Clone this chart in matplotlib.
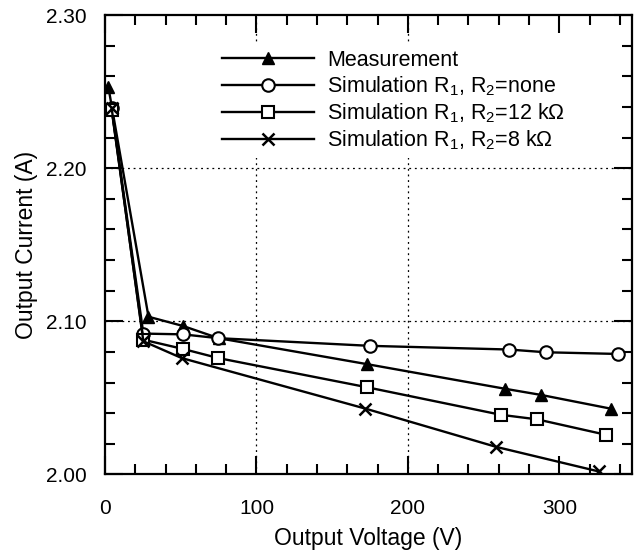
import matplotlib
matplotlib.use("Agg")
import matplotlib.pyplot as plt
from matplotlib.ticker import MultipleLocator

plt.rcParams['font.family'] = ['Liberation Sans', 'DejaVu Sans']

# measured and simulated output current vs output voltage
meas_v = [2.2, 28.7, 51.4, 75.0, 173.3, 264.0, 287.7, 333.9]
meas_i = [2.253, 2.103, 2.097, 2.089, 2.072, 2.056, 2.052, 2.043]

sim_none_v = [4.4, 25.3, 51.4, 74.9, 174.9, 266.7, 291.1, 338.9]
sim_none_i = [2.239, 2.092, 2.0915, 2.089, 2.084, 2.0816, 2.0798, 2.0787]

sim_12k_v = [4.4, 25.3, 51.4, 74.9, 172.8, 261.3, 285.4, 330.5]
sim_12k_i = [2.238, 2.088, 2.082, 2.076, 2.057, 2.039, 2.036, 2.026]

sim_8k_v = [4.4, 25.3, 50.7, 172.0, 258.4, 326.0]
sim_8k_i = [2.239, 2.087, 2.076, 2.043, 2.018, 2.002]

labels = ["Measurement",
          r"Simulation $\mathregular{R_1}$, $\mathregular{R_2}$=none",
          r"Simulation $\mathregular{R_1}$, $\mathregular{R_2}$=12 k$\mathregular{\Omega}$",
          r"Simulation $\mathregular{R_1}$, $\mathregular{R_2}$=8 k$\mathregular{\Omega}$"]

grid_x = [100, 200]
grid_y = [2.10, 2.20]

fig = plt.figure(figsize=(6.35, 5.52), dpi=100)
ax = fig.add_axes([0.1654, 0.1404, 0.8299, 0.8324])

lw = 1.7
ax.plot(meas_v, meas_i, color='black', lw=lw, marker='^', ms=8,
        mfc='black', mec='black', label=labels[0])
ax.plot(sim_none_v, sim_none_i, color='black', lw=lw, marker='o', ms=9,
        mfc='white', mec='black', mew=1.5, label=labels[1])
ax.plot(sim_12k_v, sim_12k_i, color='black', lw=lw, marker='s', ms=8,
        mfc='white', mec='black', mew=1.5, label=labels[2])
ax.plot(sim_8k_v, sim_8k_i, color='black', lw=lw, marker='x', ms=9,
        mec='black', mew=1.8, label=labels[3])

for gx in grid_x:
    ax.axvline(gx, color='black', lw=0.9, ls=(0, (1.5, 3)), zorder=0)
for gy in grid_y:
    ax.axhline(gy, color='black', lw=0.9, ls=(0, (1.5, 3)), zorder=0)

ax.set_xlim(0, 348)
ax.set_ylim(2.00, 2.30)
ax.xaxis.set_major_locator(MultipleLocator(100))
ax.xaxis.set_minor_locator(MultipleLocator(20))
ax.yaxis.set_major_locator(MultipleLocator(0.10))
ax.yaxis.set_minor_locator(MultipleLocator(0.02))
ax.yaxis.set_major_formatter(plt.FormatStrFormatter('%.2f'))

ax.tick_params(which='both', direction='in', top=True, right=True,
               width=1.5, labelsize=15)
ax.tick_params(axis='x', pad=18)
ax.tick_params(axis='y', pad=13)
ax.tick_params(which='major', length=13)
ax.tick_params(which='minor', length=7)
for s in ax.spines.values():
    s.set_linewidth(1.6)

ax.set_xlabel("Output Voltage (V)", fontsize=16.5, labelpad=6)
ax.set_ylabel("Output Current (A)", fontsize=16.5, labelpad=6)

leg = ax.legend(loc='upper left', bbox_to_anchor=(0.189, 0.962), fontsize=15.5,
                handlelength=4.3, handletextpad=0.6, labelspacing=0.16,
                frameon=True, fancybox=False, edgecolor='none',
                facecolor='white', framealpha=1, borderpad=0.3)

fig.savefig("out.png", dpi=100)
